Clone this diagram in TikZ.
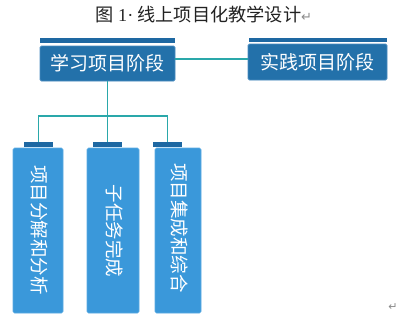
\documentclass[tikz,border=0pt]{standalone}
\usepackage{fontspec}
\setmainfont{Liberation Serif}
\newfontfamily\cjk{Noto Sans CJK SC}
\newfontfamily\dv{DejaVu Sans}
\definecolor{hdr}{HTML}{2371AA}
\definecolor{hdredge}{HTML}{4A8CC0}
\definecolor{barc}{HTML}{1E68A2}
\definecolor{tall}{HTML}{3A98DA}
\definecolor{talledge}{HTML}{5AAAE2}
\definecolor{link}{HTML}{2AA8AA}
\definecolor{ttl}{HTML}{222222}
\definecolor{mark}{HTML}{8A8A8A}
\begin{document}
\begin{tikzpicture}[x=1pt,y=-1pt,
  hdrbox/.style={draw=hdredge, line width=0.8pt, fill=hdr, rounded corners=1.5pt, text=white, inner sep=0pt,
    font=\cjk\fontsize{19}{19}\selectfont},
  topbar/.style={fill=barc, draw=none, inner sep=0pt},
  tallbox/.style={draw=talledge, line width=0.6pt, fill=tall, rounded corners=1.5pt, inner sep=0pt},
  talltext/.style={rotate=-90, text=white, inner sep=0pt, font=\cjk\fontsize{18.5}{18.5}\selectfont},
  conn/.style={draw=link, line width=1.8pt}]
\useasboundingbox (0,0) rectangle (417,319);
% title
\node[text=ttl, inner sep=0pt] (title) at (204,15) {\cjk\fontsize{18.2}{18.2}\selectfont 图 {\rmfamily 1·} 线上项目化教学设计{\dv\color{mark}\fontsize{13}{13}\selectfont ↵}};
\node[text=mark, inner sep=0pt] (pmark) at (393,307) {\dv\fontsize{11}{11}\selectfont ↵};
% top bars
\node[topbar, minimum width=135pt, minimum height=5pt] (tb1) at (107.5,40.5) {};
\node[topbar, minimum width=138pt, minimum height=4.5pt] (tb2) at (317.5,40) {};
% header boxes
\node[hdrbox, minimum width=135pt, minimum height=35pt] (learn) at (107.5,63.5) {学习项目阶段};
\node[hdrbox, minimum width=139pt, minimum height=36pt] (practice) at (317.5,62) {实践项目阶段};
% small bars
\node[topbar, minimum width=29pt, minimum height=5pt] (ba) at (38.5,144.5) {};
\node[topbar, minimum width=29pt, minimum height=5pt] (bb) at (107.5,144.5) {};
\node[topbar, minimum width=29pt, minimum height=5pt] (bc) at (167.5,144.5) {};
% tall boxes
\node[tallbox, minimum width=50pt, minimum height=165pt] (ta) at (38,230.5) {};
\node[tallbox, minimum width=52pt, minimum height=165pt] (tbx) at (113,230.5) {};
\node[tallbox, minimum width=46pt, minimum height=165pt] (tc) at (178,230.5) {};
\node[talltext] (txa) at (40,230) {项目分解和分析};
\node[talltext] (txb) at (114.5,231) {子任务完成};
\node[talltext] (txc) at (179.5,228) {项目集成和综合};
% connectors
\coordinate (bus) at (107.5,116);
\draw[conn] ([yshift=4.5pt]learn.east) -- ([yshift=4.5pt]learn.east -| practice.west);
\draw[conn] (learn.south) -- (bb.north);
\draw[conn] (ba.north) |- (bus) -| (bc.north);
\end{tikzpicture}
\end{document}
